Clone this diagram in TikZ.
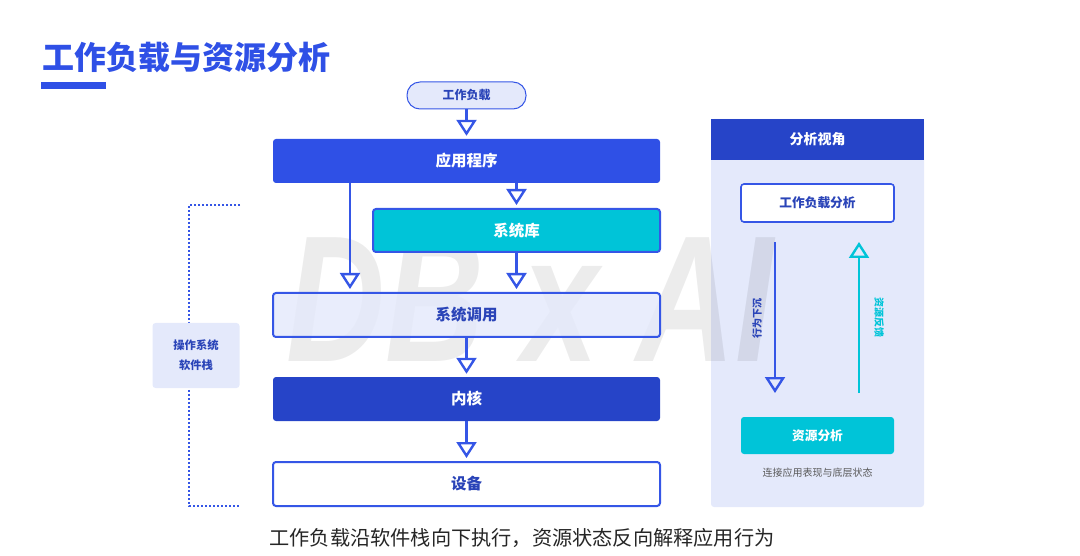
\documentclass[tikz,border=0pt]{standalone}
\usepackage{fontspec}
\setmainfont{Noto Sans CJK SC}
\newfontfamily\wmfont{Liberation Sans}
\usetikzlibrary{arrows.meta}
\definecolor{mainblue}{HTML}{2F50E6}
\definecolor{darkblue}{HTML}{2644C8}
\definecolor{cyanc}{HTML}{00C4D8}
\definecolor{lav}{HTML}{E4E9FB}
\definecolor{txtblue}{HTML}{2A44B8}
\definecolor{linec}{HTML}{3556E6}
\pgfdeclarelayer{wmlayer}
\pgfsetlayers{wmlayer,main}
\tikzset{
  box/.style={rounded corners=3pt, minimum width=387pt, minimum height=44pt, inner sep=0pt,
    font=\fontsize{15.5}{18}\selectfont\bfseries},
  tipopen/.style={-{Triangle[open, length=16pt, width=20pt, line width=2.4pt]}},
  arr/.style={draw=linec, line width=2.4pt, shorten >=3pt, tipopen},
  smallbox/.style={rounded corners=3pt, minimum width=153pt, inner sep=0pt,
    font=\fontsize{12.7}{15}\selectfont\bfseries},
}
\begin{document}
\begin{tikzpicture}[x=1pt,y=-1pt]
\useasboundingbox (0,0) rectangle (1080,556);
% title
\node[text=mainblue, font=\fontsize{32}{35}\selectfont\bfseries, anchor=west, inner sep=0pt] (title) at (42,58) {工作负载与资源分析};
\fill[mainblue] (41,82) rectangle (106,89);
% pill
\node[draw=linec, line width=1pt, fill=lav, rounded corners=13pt, minimum width=119pt, minimum height=27pt, inner sep=0pt, text=txtblue, font=\fontsize{12}{14}\selectfont\bfseries] (wl) at (466.5,95.5) {工作负载};
% main stack
\node[box, fill=mainblue, text=white] (app) at (466.5,161) {应用程序};
\node[box, minimum width=287pt, minimum height=43pt, fill=cyanc, draw=linec, line width=2pt, text=white] (lib) at (516.5,230.5) {系统库};
\node[box, fill=lav, fill opacity=0.8, text opacity=1, draw=linec, line width=2pt, text=txtblue] (sys) at (466.5,315) {系统调用};
\node[box, fill=darkblue, text=white] (ker) at (466.5,399) {内核};
\node[box, fill=white, draw=linec, line width=2pt, text=txtblue] (dev) at (466.5,484) {设备};
\coordinate (xa) at (350,0);
\draw[arr] (wl.south) -- (app.north);
\draw[arr] (app.south -| xa) -- (sys.north -| xa);
\draw[arr] (lib.north |- app.south) -- (lib.north);
\draw[arr] (lib.south) -- (lib.south |- sys.north);
\draw[arr] (sys.south) -- (ker.north);
\draw[arr] (ker.south) -- (dev.north);
% bracket
\coordinate (b1) at (240,205);
\coordinate (b2) at (189,506);
\coordinate (b3) at (240,506);
\draw[linec, line width=2pt, dash pattern=on 2pt off 2pt] (b1) -| (b2) -- (b3);
\node[fill=lav, rounded corners=3pt, minimum width=87pt, minimum height=65pt, inner sep=0pt, align=center, text=txtblue, font=\fontsize{11.3}{20}\selectfont\bfseries] (os) at (196,355.5) {操作系统\\软件栈};
% right panel
\begin{pgfonlayer}{wmlayer}
\node[fill=lav, rounded corners=3pt, minimum width=213pt, minimum height=388pt, inner sep=0pt] (panel) at (817.5,313) {};
% watermark
\node[text=black, opacity=0.075, xscale=0.76, font=\wmfont\fontsize{180}{180}\selectfont\bfseries\itshape] (wm) at (530,300) {DB x AI};
\end{pgfonlayer}
\node[fill=darkblue, minimum width=213pt, minimum height=41pt, inner sep=0pt, text=white, font=\fontsize{14}{16}\selectfont\bfseries] (head) at (817.5,139.5) {分析视角};
\node[smallbox, minimum height=38pt, fill=white, draw=linec, line width=1.6pt, text=txtblue] (wla) at (817.5,203) {工作负载分析};
\node[smallbox, minimum height=37pt, fill=cyanc, text=white] (res) at (817.5,435.5) {资源分析};
\node[text=black!65, font=\fontsize{10}{12}\selectfont, inner sep=0pt] (cap2) at (817.5,473) {连接应用表现与底层状态};
\coordinate (d1) at (775,242);
\coordinate (d2) at (775,393);
\coordinate (u1) at (859,393);
\coordinate (u2) at (859,242);
\draw[arr, shorten >=0pt] (d1) -- (d2);
\draw[arr, shorten >=0pt, draw=cyanc] (u1) -- (u2);
\node[rotate=90, text=txtblue, font=\fontsize{10}{12}\selectfont\bfseries, inner sep=0pt] (lb1) at (757,318) {行为下沉};
\node[rotate=-90, text=cyanc, font=\fontsize{10}{12}\selectfont\bfseries, inner sep=0pt] (lb2) at (879,318) {资源反馈};
% caption
\node[text=black!85, font=\fontsize{20.2}{23}\selectfont, inner sep=0pt] (cap) at (522,538) {工作负载沿软件栈向下执行，资源状态反向解释应用行为};
\end{tikzpicture}
\end{document}
